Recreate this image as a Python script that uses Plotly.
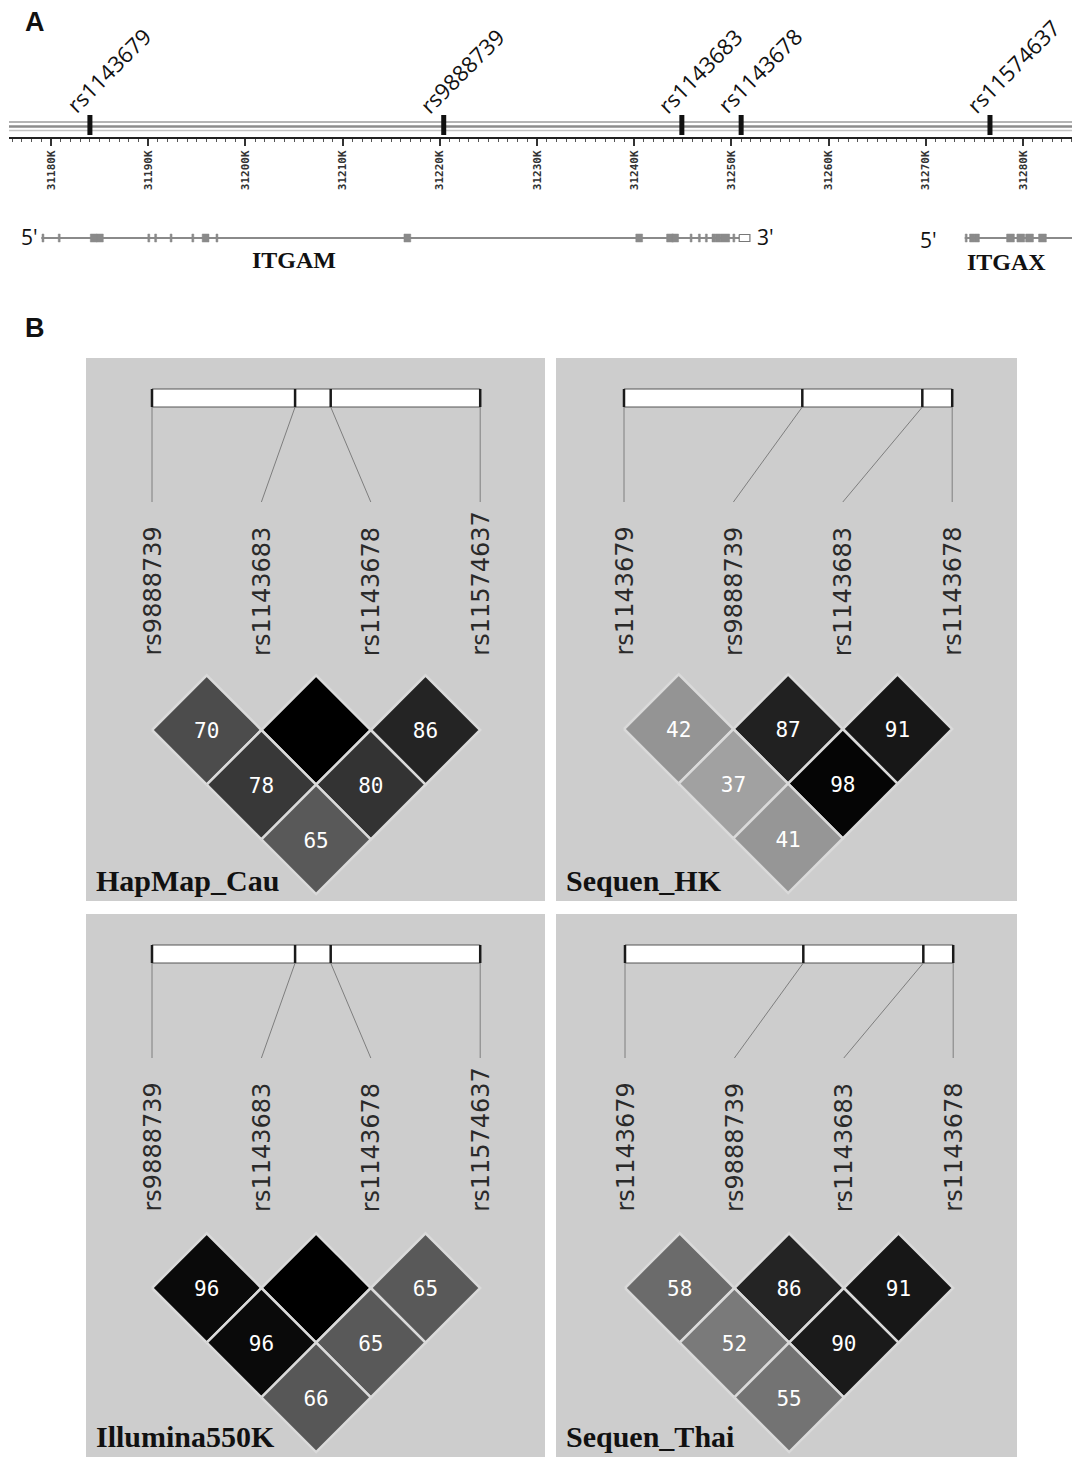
import plotly.graph_objects as go

W, H = 1072, 1457

# ---------------- Panel A: genomic region data ----------------
snp_names = ["rs1143679", "rs9888739", "rs1143683", "rs1143678", "rs11574637"]
snp_pos_kb = [31184.0, 31220.4, 31244.9, 31251.0, 31276.6]

ruler_ticks_kb = [31180, 31190, 31200, 31210, 31220, 31230, 31240, 31250, 31260, 31270, 31280]
ruler_labels = ["31180K", "31190K", "31200K", "31210K", "31220K", "31230K",
                "31240K", "31250K", "31260K", "31270K", "31280K"]

itgam_span_kb = [31179.0, 31250.8]
itgam_exon_kb = [31179.17, 31180.84, 31184.39, 31185.03, 31190.06, 31190.76, 31192.35,
                 31194.59, 31195.90, 31197.07, 31216.66, 31240.51, 31243.68, 31244.21,
                 31245.85, 31246.70, 31247.42, 31248.20, 31248.66, 31249.37, 31250.25]
itgam_exon_len_kb = [0.2, 0.2, 0.7, 0.7, 0.2, 0.2, 0.2, 0.2, 0.7, 0.2, 0.7, 0.7, 0.7, 0.7,
                     0.2, 0.2, 0.2, 0.4, 0.5, 0.9, 0.2]
itgam_utr_kb = [31250.8, 31251.9]

itgax_span_kb = [31274.0, 31290.0]
itgax_exon_kb = [31274.15, 31274.75, 31275.26, 31278.71, 31279.77, 31280.67, 31282.0]
itgax_exon_len_kb = [0.2, 0.5, 0.5, 0.8, 0.8, 0.8, 0.8]

# ---------------- Panel B: pairwise D' (x100) ----------------
ld_snps_left = ["rs9888739", "rs1143683", "rs1143678", "rs11574637"]
ld_snps_right = ["rs1143679", "rs9888739", "rs1143683", "rs1143678"]
# pair order: (1,2) (2,3) (3,4) (1,3) (2,4) (1,4)
ld_pairs = [(0, 1), (1, 2), (2, 3), (0, 2), (1, 3), (0, 3)]
dprime_hapmap_cau = [70, 100, 86, 78, 80, 65]
dprime_sequen_hk = [42, 87, 91, 37, 98, 41]
dprime_illumina550k = [96, 100, 65, 96, 65, 66]
dprime_sequen_thai = [58, 86, 91, 52, 90, 55]

# ---------------- layout constants ----------------
KB0 = 31174.75          # genomic coordinate at the left page edge
PX_PER_KB = 9.72
KB1 = KB0 + W / PX_PER_KB
U = 109.4               # pixels per marker step in the LD panels

fig = go.Figure()
layout = dict(
    width=W, height=H, margin=dict(l=0, r=0, t=0, b=0),
    paper_bgcolor="white", plot_bgcolor="rgba(0,0,0,0)", showlegend=False,
    xaxis=dict(domain=[0, 1], range=[KB0, KB1], visible=False, anchor="y"),
    yaxis=dict(domain=[1 - 300 / H, 1], range=[300, 0], visible=False, anchor="x"),
    xaxis2=dict(domain=[9 / W, 1], range=[KB0 + 9 / PX_PER_KB, KB1], anchor="y2",
                showline=True, linecolor="#222", linewidth=2, showgrid=False, zeroline=False,
                ticks="outside", ticklen=7, tickwidth=1.5, tickcolor="#333",
                tickmode="array", tickvals=ruler_ticks_kb, ticktext=ruler_labels,
                tickangle=-90,
                tickfont=dict(family="DejaVu Sans Mono", size=11, color="#333", weight="bold"),
                minor=dict(ticks="outside", tick0=31180, dtick=1, ticklen=3, tickwidth=1,
                           tickcolor="#555", showgrid=False)),
    yaxis2=dict(domain=[1 - 137 / H, 1 - 120 / H], range=[0, 1], visible=False, anchor="x2"),
)
shapes = []
annotations = []

# ---------------- Panel A drawing ----------------
fig.add_trace(go.Scatter(x=[KB0 + 50], y=[0.5], xaxis="x2", yaxis="y2", mode="markers",
                         marker=dict(opacity=0), hoverinfo="skip"))

# chromosome backbone
for yv, col, wd in [(122, "#b4b4b4", 2), (126.5, "#8c8c8c", 2.5), (130.5, "#c4c4c4", 1.5)]:
    shapes.append(dict(type="line", xref="paper", yref="y", x0=9 / W, x1=1, y0=yv, y1=yv,
                       line=dict(color=col, width=wd), layer="below"))

# SNP markers
mx, my = [], []
for p in snp_pos_kb:
    mx += [p, p, None]
    my += [115, 135, None]
fig.add_trace(go.Scatter(x=mx, y=my, xaxis="x", yaxis="y", mode="lines",
                         line=dict(color="#111", width=5), hoverinfo="skip"))
for name, p in zip(snp_names, snp_pos_kb):
    annotations.append(dict(x=p, y=122, xref="x", yref="y", text=name, showarrow=False,
                            textangle=-45, xanchor="left", yanchor="bottom", xshift=-33,
                            font=dict(family="Open Sans", size=22, color="#111")))


def exon_polys(centers, lengths, y0, y1):
    xs, ys = [], []
    for c, l in zip(centers, lengths):
        a, b = c - l / 2, c + l / 2
        xs += [a, b, b, a, a, None]
        ys += [y0, y0, y1, y1, y0, None]
    return xs, ys


GY = 238
# gene backbones
for span in (itgam_span_kb, itgax_span_kb):
    fig.add_trace(go.Scatter(x=span, y=[GY, GY], xaxis="x", yaxis="y", mode="lines",
                             line=dict(color="#8a8a8a", width=2), hoverinfo="skip"))
# exons
for cs, ls in ((itgam_exon_kb, itgam_exon_len_kb), (itgax_exon_kb, itgax_exon_len_kb)):
    ex, ey = exon_polys(cs, ls, GY - 4, GY + 4)
    fig.add_trace(go.Scatter(x=ex, y=ey, xaxis="x", yaxis="y", mode="lines", fill="toself",
                             fillcolor="#8a8a8a", line=dict(color="#8a8a8a", width=0.5),
                             hoverinfo="skip"))
# 3' UTR (open box)
ux = [itgam_utr_kb[0], itgam_utr_kb[1], itgam_utr_kb[1], itgam_utr_kb[0], itgam_utr_kb[0]]
uy = [GY - 3.5, GY - 3.5, GY + 3.5, GY + 3.5, GY - 3.5]
fig.add_trace(go.Scatter(x=ux, y=uy, xaxis="x", yaxis="y", mode="lines", fill="toself",
                         fillcolor="white", line=dict(color="#777", width=1.2), hoverinfo="skip"))

end_font = dict(family="Open Sans", size=21, color="#111")
annotations += [
    dict(x=itgam_span_kb[0], y=GY, xref="x", yref="y", text="5'", showarrow=False,
         xanchor="right", yanchor="middle", xshift=-1, yshift=1, font=end_font),
    dict(x=itgam_utr_kb[1], y=GY, xref="x", yref="y", text="3'", showarrow=False,
         xanchor="left", yanchor="middle", xshift=5, yshift=1, font=end_font),
    dict(x=itgax_span_kb[0], y=GY, xref="x", yref="y", text="5'", showarrow=False,
         xanchor="right", yanchor="middle", xshift=-26, yshift=-2, font=end_font),
    dict(x=31205.0, y=260, xref="x", yref="y", text="<b>ITGAM</b>", showarrow=False,
         xanchor="center", yanchor="middle",
         font=dict(family="Liberation Serif", size=24, color="#111")),
    dict(x=31278.3, y=262, xref="x", yref="y", text="<b>ITGAX</b>", showarrow=False,
         xanchor="center", yanchor="middle",
         font=dict(family="Liberation Serif", size=24, color="#111")),
    dict(x=35 / W, y=1 - 22 / H, xref="paper", yref="paper", text="<b>A</b>", showarrow=False,
         xanchor="center", yanchor="middle",
         font=dict(family="Liberation Sans", size=27, color="#111")),
    dict(x=35 / W, y=1 - 328 / H, xref="paper", yref="paper", text="<b>B</b>", showarrow=False,
         xanchor="center", yanchor="middle",
         font=dict(family="Liberation Sans", size=27, color="#111")),
]

# ---------------- Panel B drawing ----------------
pos_lookup = dict(zip(snp_names, snp_pos_kb))
panels = [
    ("HapMap_Cau", ld_snps_left, dprime_hapmap_cau, (86, 545, 358, 901), 152, 730),
    ("Sequen_HK", ld_snps_right, dprime_sequen_hk, (556, 1017, 358, 901), 624, 729),
    ("Illumina550K", ld_snps_left, dprime_illumina550k, (86, 545, 914, 1457), 152, 1288),
    ("Sequen_Thai", ld_snps_right, dprime_sequen_thai, (556, 1017, 914, 1457), 625, 1288),
]


def gray_for(v):
    g = int(round((100 - v) * 2.55))
    return f"rgb({g},{g},{g})"


for k, (label, snps, dvals, (L, R, T, B), s0, yc) in enumerate(panels):
    n = k + 3
    xr = f"x{n}"
    yr = f"y{n}"
    y_top = -0.5 + (yc - T) / U
    layout[f"xaxis{n}"] = dict(domain=[L / W, R / W], range=[(L - s0) / U, (R - s0) / U],
                               visible=False, anchor=yr)
    layout[f"yaxis{n}"] = dict(domain=[1 - B / H, 1 - T / H],
                               range=[y_top - (B - T) / U, y_top], visible=False, anchor=xr)
    shapes.append(dict(type="rect", xref=f"{xr} domain", yref=f"{yr} domain",
                       x0=0, x1=1, y0=0, y1=1, fillcolor="#cdcdcd", line=dict(width=0),
                       layer="below"))

    bar_top = y_top - 31 / U
    bar_bot = y_top - 49 / U
    line_bot = y_top - 144 / U
    name_base = y_top - 300 / U

    pos = [pos_lookup[s] for s in snps]
    nsnp = len(snps)
    bx = [(nsnp - 1) * (p - pos[0]) / (pos[-1] - pos[0]) for p in pos]

    # physical-distance bar
    shapes.append(dict(type="rect", xref=xr, yref=yr, x0=bx[0], x1=bx[-1],
                       y0=bar_bot, y1=bar_top, fillcolor="white",
                       line=dict(color="#555", width=1), layer="below"))
    dx, dy, cx_, cy_ = [], [], [], []
    for i, b in enumerate(bx):
        dx += [b, b, None]
        dy += [bar_bot, bar_top, None]
        cx_ += [b, i, None]
        cy_ += [bar_bot, line_bot, None]
    fig.add_trace(go.Scatter(x=cx_, y=cy_, xaxis=xr, yaxis=yr, mode="lines",
                             line=dict(color="#7e7e7e", width=1), hoverinfo="skip"))
    fig.add_trace(go.Scatter(x=dx, y=dy, xaxis=xr, yaxis=yr, mode="lines",
                             line=dict(color="#1a1a1a", width=2.5), hoverinfo="skip"))

    for i, s in enumerate(snps):
        annotations.append(dict(x=i, y=name_base, xref=xr, yref=yr, text=s, showarrow=False,
                                textangle=-90, xanchor="center", yanchor="bottom",
                                font=dict(family="DejaVu Sans", size=24, color="#2a2a2a")))

    # LD diamonds
    tx, ty, tt = [], [], []
    for (i, j), v in zip(ld_pairs, dvals):
        cx = (i + j) / 2
        cy = -(j - i) / 2
        fig.add_trace(go.Scatter(
            x=[cx - 0.5, cx, cx + 0.5, cx, cx - 0.5],
            y=[cy, cy + 0.5, cy, cy - 0.5, cy],
            xaxis=xr, yaxis=yr, mode="lines", fill="toself", fillcolor=gray_for(v),
            line=dict(color="#dadada", width=2.5), hoverinfo="skip"))
        tx.append(cx)
        ty.append(cy - 3 / U)
        tt.append("" if v >= 100 else str(v))
    fig.add_trace(go.Scatter(x=tx, y=ty, xaxis=xr, yaxis=yr, mode="text", text=tt,
                             textposition="middle center",
                             textfont=dict(family="DejaVu Sans Mono", size=21, color="white"),
                             hoverinfo="skip"))

    annotations.append(dict(x=8 / (R - L), y=0, xref=f"{xr} domain", yref=f"{yr} domain",
                            text=f"<b>{label}</b>", showarrow=False, xanchor="left",
                            yanchor="bottom", yshift=2,
                            font=dict(family="Liberation Serif", size=30, color="#111")))

layout["shapes"] = shapes
layout["annotations"] = annotations
fig.update_layout(**layout)
fig.write_html("out.html")
